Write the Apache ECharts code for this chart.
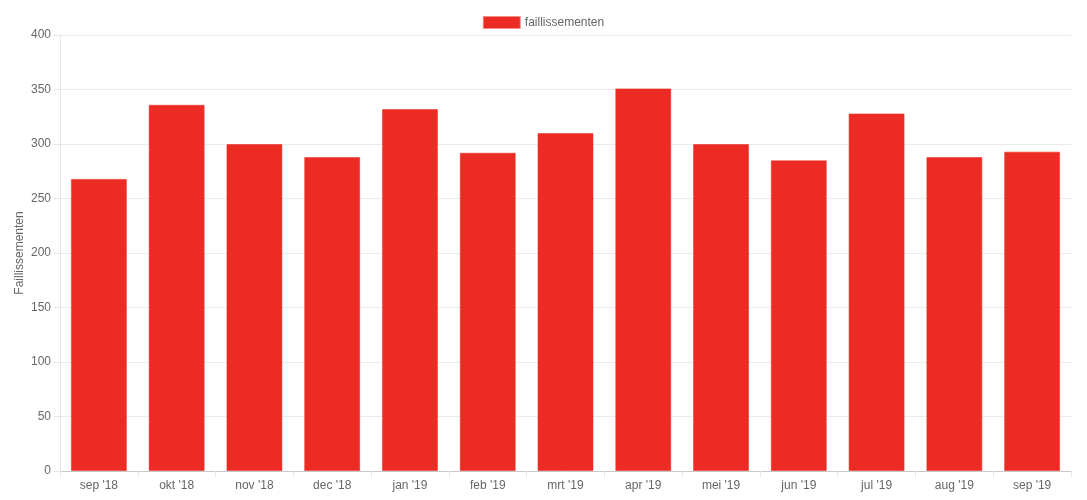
<!DOCTYPE html>
<html>
<head>
<meta charset="utf-8">
<script src="https://cdn.jsdelivr.net/npm/echarts@6/dist/echarts.min.js"></script>
<style>html,body{margin:0;padding:0;background:#fff}#c{width:1087px;height:500px}</style>
</head>
<body>
<div id="c"></div>
<script>
const categories = ["sep '18","okt '18","nov '18","dec '18","jan '19","feb '19","mrt '19","apr '19","mei '19","jun '19","jul '19","aug '19","sep '19"];
const faillissementen = [268,336,300,288,332,292,310,351,300,285,328,288,293];
const seriesName = "faillissementen";
const yAxisTitle = "Faillissementen";

const chart = echarts.init(document.getElementById('c'), null, {renderer:'canvas'});
const font = "'Liberation Sans', Arial, sans-serif";
chart.setOption({
  animation:false,
  textStyle:{fontFamily:font},
  legend:{
    top:11, left:'center',
    itemWidth:36, itemHeight:11, itemGap:10,
    icon:'rect',
    textStyle:{color:'#666', fontSize:12, fontFamily:font},
    data:[seriesName]
  },
  grid:{left:60, right:16, top:35, bottom:29, containLabel:false, outerBoundsMode:'none'},
  xAxis:{
    type:'category', data:categories, boundaryGap:true,
    axisLine:{show:true, lineStyle:{color:'#c8c8c8'}},
    axisTick:{show:true, alignWithLabel:false, length:6, lineStyle:{color:'#e6e6e6'}},
    axisLabel:{color:'#666', fontSize:12, margin:9, fontFamily:font},
    splitLine:{show:false}
  },
  yAxis:{
    type:'value', min:0, max:400, interval:50,
    name:yAxisTitle, nameLocation:'middle', nameGap:34, nameRotate:90,
    nameMoveOverlap:false,
    nameTextStyle:{color:'#666', fontSize:12, fontFamily:font},
    axisLine:{show:true, lineStyle:{color:'#e6e6e6'}},
    axisTick:{show:true, length:6, lineStyle:{color:'#e6e6e6'}},
    axisLabel:{color:'#666', fontSize:12, margin:9, fontFamily:font},
    splitLine:{show:true, lineStyle:{color:'#ebebeb'}}
  },
  series:[{
    name:seriesName, type:'bar', data:faillissementen,
    barCategoryGap:'28%',
    itemStyle:{color:'#ec2c24', borderColor:'rgba(236,44,36,0.55)', borderWidth:1}
  }]
});
</script>
</body>
</html>
